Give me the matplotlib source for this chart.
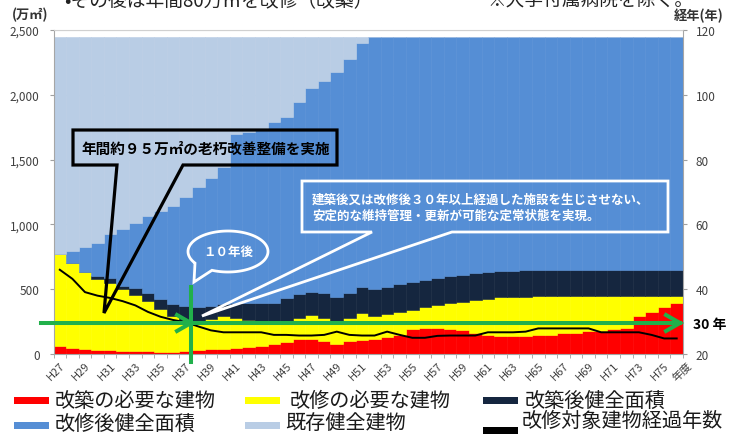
import numpy as np
import matplotlib
matplotlib.use('Agg')
import matplotlib.pyplot as plt
from matplotlib.patches import Polygon, Rectangle
from matplotlib.lines import Line2D

plt.rcParams['font.family'] = ['Noto Sans CJK JP', 'DejaVu Sans']

# ---------------- data ----------------
categories = ['H27', 'H28', 'H29', 'H30', 'H31', 'H32', 'H33', 'H34', 'H35', 'H36',
              'H37', 'H38', 'H39', 'H40', 'H41', 'H42', 'H43', 'H44', 'H45', 'H46',
              'H47', 'H48', 'H49', 'H50', 'H51', 'H52', 'H53', 'H54', 'H55', 'H56',
              'H57', 'H58', 'H59', 'H60', 'H61', 'H62', 'H63', 'H64', 'H65', 'H66',
              'H67', 'H68', 'H69', 'H70', 'H71', 'H72', 'H73', 'H74', 'H75', 'H76']

red = [59, 46, 39, 33, 31, 26, 23, 21, 18, 18,
       21, 31, 39, 39, 44, 51, 59, 77, 95, 116,
       116, 103, 77, 103, 110, 115, 135, 150, 193, 198,
       198, 193, 185, 160, 148, 140, 140, 142, 146, 150,
       159, 165, 175, 180, 190, 198, 290, 321, 360, 393]

yellow = [712, 656, 591, 546, 514, 476, 432, 390, 329, 275,
          234, 224, 231, 251, 231, 211, 191, 167, 149, 159,
          185, 172, 172, 172, 206, 176, 174, 177, 149, 162,
          180, 198, 219, 255, 280, 297, 303, 301, 299, 295,
          286, 280, 270, 265, 255, 247, 155, 124, 85, 52]

navy = [0, 0, 0, 25, 39, 25, 52, 60, 77, 93,
        118, 110, 100, 95, 120, 133, 140, 151, 186, 185,
        177, 195, 191, 195, 204, 214, 211, 213, 216, 213,
        208, 208, 206, 207, 204, 203, 200, 202, 200, 200,
        200, 200, 200, 200, 200, 200, 200, 200, 200, 200]

blue = [0, 93, 193, 256, 342, 438, 504, 596, 681, 758,
        842, 925, 990, 1055, 1305, 1320, 1335, 1395, 1400, 1485,
        1574, 1639, 1733, 1806, 1878, 1940, 1925, 1905, 1887, 1872,
        1859, 1846, 1835, 1823, 1813, 1805, 1802, 1800, 1800, 1800,
        1800, 1800, 1800, 1800, 1800, 1800, 1800, 1800, 1800, 1800]

light = [1674, 1650, 1622, 1585, 1519, 1480, 1434, 1378, 1340, 1301,
         1230, 1155, 1085, 1005, 745, 730, 720, 655, 615, 500,
         393, 336, 272, 169, 47, 0, 0, 0, 0, 0,
         0, 0, 0, 0, 0, 0, 0, 0, 0, 0,
         0, 0, 0, 0, 0, 0, 0, 0, 0, 0]

age = [46.0, 43.2, 39.1, 38.0, 37.3, 36.3, 35.0, 33.0, 31.5, 30.5,
       29.8, 28.5, 27.3, 26.7, 26.7, 26.7, 26.7, 25.9, 25.9, 25.7,
       25.7, 25.9, 26.9, 25.9, 25.7, 25.7, 26.9, 25.9, 25.0, 25.0,
       25.6, 25.7, 25.7, 25.7, 26.7, 26.7, 26.7, 26.9, 27.9, 27.9,
       27.9, 27.9, 27.9, 26.7, 26.7, 26.7, 26.7, 25.9, 24.8, 24.8]

y_ticks = [0, 500, 1000, 1500, 2000, 2500]
y_tick_labels = ['0', '500', '1,000', '1,500', '2,000', '2,500']
age_ticks = [20, 40, 60, 80, 100, 120]

series_names = ['改築の必要な建物', '改修の必要な建物', '改築後健全面積',
                '改修後健全面積', '既存健全建物']
line_name = '改修対象建物経過年数'
series_colors = ['#ff0000', '#ffff00', '#15263f', '#558ed5', '#b9cde5']
green = '#21b04b'
tick_color = '#404040'

# ---------------- figure ----------------
W, H = 730, 439
fig = plt.figure(figsize=(W / 100, H / 100), dpi=100)
ax = fig.add_axes([53.5 / W, 1 - 355 / H, (683 - 53.5) / W, (355 - 31) / H])


def P(px, py):
    return (px / W, 1 - py / H)


x = np.arange(len(categories))
bottom = np.zeros(len(categories))
for vals, col in zip([red, yellow, navy, blue, light], series_colors):
    v = np.array(vals, dtype=float)
    ax.bar(x, v, width=1.0, bottom=bottom, color=col, edgecolor=col,
           linewidth=0.4, zorder=2)
    bottom = bottom + v

ax.set_xlim(-0.5, len(categories) - 0.5)
ax.set_ylim(0, 2500)
ax.set_yticks(y_ticks)
ax.set_yticklabels(y_tick_labels)
ax.yaxis.grid(True, color='#d9d9d9', linewidth=0.8, zorder=0)
ax.set_axisbelow(True)
ax.tick_params(axis='y', labelsize=8.5, colors=tick_color, length=3, pad=7,
               color='#a0a0a0')

ax.set_xticks(x[::2])
ax.set_xticklabels(categories[::2], rotation=45, ha='right',
                   rotation_mode='anchor')
ax.set_xticks(np.arange(-0.5, len(categories), 1), minor=True)
ax.tick_params(axis='x', which='major', length=0, pad=4, labelsize=8,
               colors=tick_color)
ax.tick_params(axis='x', which='minor', length=3, color='#a0a0a0')
ax.annotate('年度', xy=(49.8, 0), xycoords=('data', 'axes fraction'),
            xytext=(0, -4), textcoords='offset points', rotation=45,
            ha='right', va='top', rotation_mode='anchor', fontsize=8,
            color=tick_color)

for s in ['left', 'bottom', 'top', 'right']:
    ax.spines[s].set_color('#a6a6a6')
    ax.spines[s].set_linewidth(0.8)
ax.spines['top'].set_color('#d0d0d0')

ax2 = ax.twinx()
ax2.plot(x, age, color='black', linewidth=1.4, zorder=3)
ax2.set_ylim(20, 120)
ax2.set_yticks(age_ticks)
ax2.tick_params(axis='y', labelsize=8.5, colors=tick_color, length=3, pad=6,
                color='#a0a0a0')
for s in ['left', 'bottom', 'top', 'right']:
    ax2.spines[s].set_visible(False)

# axis titles
fig.text(*P(12, 15), '(万㎡)', fontsize=9.5, fontweight='bold', color='#333333',
         ha='left', va='center')
fig.text(*P(724, 16), '経年(年)', fontsize=9.5, fontweight='bold', color='#333333',
         ha='right', va='center')

# cut-off header texts
fig.text(*P(64, 1), '•その後は年間80万㎡を改修（改築）', fontsize=13.5,
         color='#222222', ha='left', va='center')
fig.text(*P(487, 1), '※大学付属病院を除く。', fontsize=13.5,
         color='#222222', ha='left', va='center')

# ---------------- green reference arrow ----------------
gy = 324
fig.add_artist(Line2D([P(41, gy)[0], P(680, gy)[0]], [P(41, gy)[1]] * 2,
                      color=green, linewidth=2.9, zorder=6))
fig.add_artist(Line2D([P(190.5, 288)[0]] * 2, [P(190.5, 288)[1], P(190.5, 363)[1]],
                      color=green, linewidth=2.9, zorder=6))
for tipx in (191, 680):
    xs = [P(tipx - 14, gy - 8)[0], P(tipx, gy)[0], P(tipx - 14, gy + 8)[0]]
    ys = [P(tipx - 14, gy - 8)[1], P(tipx, gy)[1], P(tipx - 14, gy + 8)[1]]
    fig.add_artist(Line2D(xs, ys, color=green, linewidth=2.9, zorder=6,
                          solid_joinstyle='miter'))
fig.text(*P(693, 325), '30 年', fontsize=10, fontweight='bold', color='black',
         ha='left', va='center')

# ---------------- callout bubbles ----------------
black_bubble = [P(73, 131), P(337, 131), P(337, 166), P(183, 166), P(104, 314),
                P(117, 166), P(73, 166)]
fig.add_artist(Polygon(black_bubble, closed=True, fill=False, edgecolor='black',
                       linewidth=2.3, joinstyle='miter', zorder=7))
fig.text(*P(206, 148.5), '年間約９５万㎡の老朽改善整備を実施', fontsize=10.5,
         fontweight='bold', color='black', ha='center', va='center', zorder=8)

white_bubble = [P(302, 182), P(668, 182), P(668, 233), P(452, 233), P(202, 317),
                P(372, 233), P(302, 233)]
fig.add_artist(Polygon(white_bubble, closed=True, fill=False, edgecolor='white',
                       linewidth=2.0, joinstyle='miter', zorder=7))
fig.text(*P(312, 200), '建築後又は改修後３０年以上経過した施設を生じさせない、',
         fontsize=9, fontweight='bold', color='white', ha='left', va='center',
         zorder=8)
fig.text(*P(312, 216), '安定的な維持管理・更新が可能な定常状態を実現。',
         fontsize=9, fontweight='bold', color='white', ha='left', va='center',
         zorder=8)

cx, cy, a, b = 228, 252.5, 40, 20.5
t = np.radians(np.linspace(113.6, 145.6 - 360, 120))
pts = [P(cx + a * np.cos(tt), cy + b * np.sin(tt)) for tt in t]
pts.append(P(194, 283))
fig.add_artist(Polygon(pts, closed=True, fill=False, edgecolor='white',
                       linewidth=2.0, joinstyle='miter', zorder=7))
fig.text(*P(228, 252), '１０年後', fontsize=9, fontweight='bold', color='white',
         ha='center', va='center', zorder=8)

# ---------------- legend ----------------
legend_items = [
    (series_names[0], series_colors[0], 14, 55, 401.5, 398, 7),
    (series_names[1], series_colors[1], 245, 290, 401.5, 398, 7),
    (series_names[2], series_colors[2], 483, 525, 401.5, 398, 7),
    (series_names[3], series_colors[3], 14, 55, 424, 423, 7),
    (series_names[4], series_colors[4], 245, 285, 424, 423, 7),
    (line_name, 'black', 483, 522, 421, 428, 7),
]
for name, col, px, tx, ty, ry, rh in legend_items:
    x0, y0 = P(px, ry + rh)
    fig.add_artist(Rectangle((x0, y0), 35 / W, rh / H, facecolor=col,
                             edgecolor='none', transform=fig.transFigure))
    fig.text(*P(tx, ty), name, fontsize=14.5, color='#1a1a1a', ha='left',
             va='center')

fig.savefig('out.png', dpi=100)
